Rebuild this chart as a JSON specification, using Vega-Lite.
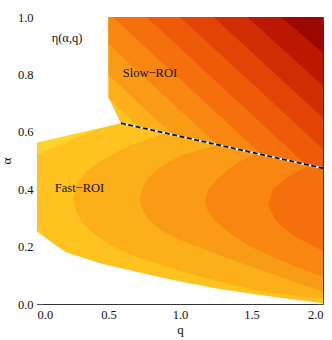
{
  "$schema": "https://vega.github.io/schema/vega-lite/v6.json",
  "width": 286,
  "height": 287,
  "autosize": "none",
  "padding": {"left": 37, "top": 17, "right": 9, "bottom": 36},
  "background": "white",
  "config": {
    "view": {"stroke": "#333", "strokeWidth": 1},
    "font": "Liberation Serif",
    "axis": {"labelFont": "Liberation Serif", "titleFont": "Liberation Serif", "labelFontSize": 12.5, "titleFontSize": 13, "labelColor": "#111", "titleColor": "#111", "titleFontWeight": "normal", "domain": false, "grid": false, "tickColor": "#555", "tickWidth": 0.8}
  },
  "datasets": {
    "base": [{"q0": 0, "q1": 2, "a0": 0, "a1": 0.7}],
    "f1": [
      {"a": 0.0, "xl": 0.75}, {"a": 0.105, "xl": 0.75}, {"a": 0.11, "xl": 0.70}, {"a": 0.13, "xl": 0.52},
      {"a": 0.155, "xl": 0.33}, {"a": 0.19, "xl": 0.18}, {"a": 0.215, "xl": 0.10}, {"a": 0.245, "xl": 0.03},
      {"a": 0.27, "xl": 0.0}, {"a": 0.29, "xl": -0.1}, {"a": 0.50, "xl": -0.1}, {"a": 0.52, "xl": 0.0},
      {"a": 0.55, "xl": 0.14}, {"a": 0.58, "xl": 0.28}, {"a": 0.61, "xl": 0.43}, {"a": 0.625, "xl": 0.53},
      {"a": 0.65, "xl": 0.75}
    ],
    "fa": [
      {"a": 0.017, "xl": 2.0}, {"a": 0.04, "xl": 1.62}, {"a": 0.07, "xl": 1.33}, {"a": 0.095, "xl": 1.15},
      {"a": 0.115, "xl": 1.0}, {"a": 0.14, "xl": 0.85}, {"a": 0.165, "xl": 0.69}, {"a": 0.20, "xl": 0.53},
      {"a": 0.24, "xl": 0.41}, {"a": 0.28, "xl": 0.325}, {"a": 0.32, "xl": 0.275}, {"a": 0.37, "xl": 0.255},
      {"a": 0.42, "xl": 0.28}, {"a": 0.46, "xl": 0.34}, {"a": 0.50, "xl": 0.45}, {"a": 0.54, "xl": 0.60},
      {"a": 0.58, "xl": 0.80}, {"a": 0.62, "xl": 1.05}, {"a": 0.66, "xl": 1.4}
    ],
    "fb": [
      {"a": 0.043, "xl": 2.0}, {"a": 0.09, "xl": 1.73}, {"a": 0.136, "xl": 1.466}, {"a": 0.18, "xl": 1.22},
      {"a": 0.223, "xl": 1.0}, {"a": 0.26, "xl": 0.86}, {"a": 0.30, "xl": 0.77}, {"a": 0.33, "xl": 0.735},
      {"a": 0.362, "xl": 0.72}, {"a": 0.40, "xl": 0.735}, {"a": 0.44, "xl": 0.78}, {"a": 0.48, "xl": 0.87},
      {"a": 0.52, "xl": 1.02}, {"a": 0.56, "xl": 1.3}, {"a": 0.60, "xl": 1.65}, {"a": 0.64, "xl": 2.0}
    ],
    "fc": [
      {"a": 0.095, "xl": 2.0}, {"a": 0.12, "xl": 1.86}, {"a": 0.153, "xl": 1.70}, {"a": 0.20, "xl": 1.49},
      {"a": 0.246, "xl": 1.35}, {"a": 0.29, "xl": 1.245}, {"a": 0.33, "xl": 1.19}, {"a": 0.355, "xl": 1.175},
      {"a": 0.39, "xl": 1.19}, {"a": 0.43, "xl": 1.25}, {"a": 0.47, "xl": 1.34}, {"a": 0.50, "xl": 1.43},
      {"a": 0.54, "xl": 1.62}, {"a": 0.58, "xl": 1.95}
    ],
    "fd": [
      {"a": 0.185, "xl": 2.0}, {"a": 0.21, "xl": 1.90}, {"a": 0.246, "xl": 1.77}, {"a": 0.29, "xl": 1.67},
      {"a": 0.345, "xl": 1.617}, {"a": 0.40, "xl": 1.65}, {"a": 0.444, "xl": 1.757}, {"a": 0.48, "xl": 1.90},
      {"a": 0.52, "xl": 2.1}
    ],
    "masktop": [{"q": 0, "lo": 0.563}, {"q": 0.587, "lo": 0.63}],
    "maskbot": [
      {"q": 0, "hi": 0.252}, {"q": 0.2, "hi": 0.180}, {"q": 0.44, "hi": 0.142}, {"q": 0.80, "hi": 0.100},
      {"q": 1.0, "hi": 0.078}, {"q": 1.268, "hi": 0.053}, {"q": 1.56, "hi": 0.031}, {"q": 1.79, "hi": 0.016},
      {"q": 2.0, "hi": 0.003}
    ],
    "s0": [{"q": 0.5, "lo": 0.72}, {"q": 0.587, "lo": 0.63}, {"q": 2.0, "lo": 0.473}],
    "s1": [{"q": 0.5, "lo": 0.72}, {"q": 0.508, "lo": 0.712}, {"q": 0.716, "lo": 0.616}, {"q": 2.0, "lo": 0.473}],
    "s2": [{"q": 0.5, "lo": 0.798}, {"q": 0.952, "lo": 0.589}, {"q": 2.0, "lo": 0.473}],
    "s3": [{"q": 0.5, "lo": 0.906}, {"q": 1.261, "lo": 0.555}, {"q": 2.0, "lo": 0.473}],
    "s4": [{"q": 0.53, "lo": 1.0}, {"q": 1.570, "lo": 0.521}, {"q": 2.0, "lo": 0.473}],
    "s5": [{"q": 0.765, "lo": 1.0}, {"q": 1.879, "lo": 0.4865}, {"q": 2.0, "lo": 0.473}],
    "s6": [{"q": 1.0, "lo": 1.0}, {"q": 2.0, "lo": 0.54}],
    "s7": [{"q": 1.235, "lo": 1.0}, {"q": 2.0, "lo": 0.648}],
    "s8": [{"q": 1.47, "lo": 1.0}, {"q": 2.0, "lo": 0.76}],
    "s9": [{"q": 1.705, "lo": 1.0}, {"q": 2.0, "lo": 0.875}],
    "dash": [{"q": 0.587, "a": 0.63}, {"q": 2.0, "a": 0.473}],
    "labels": [
      {"q": 0.21, "a": 0.927, "t": "η(α,q)"},
      {"q": 0.79, "a": 0.805, "t": "Slow−ROI"},
      {"q": 0.297, "a": 0.404, "t": "Fast−ROI"}
    ]
  },
  "layer": [
    {
      "data": {"name": "base"},
      "mark": {"type": "rect", "color": "#FFD42C", "clip": true},
      "encoding": {
        "x": {"field": "q0", "type": "quantitative", "scale": {"domain": [0, 2], "nice": false, "zero": false},
              "title": "q", "axis": {"orient": "bottom", "values": [0, 0.25, 0.5, 0.75, 1, 1.25, 1.5, 1.75, 2], "labelExpr": "round(datum.value*4) % 2 == 0 ? format(datum.value, '.1f') : ''", "tickSize": {"condition": {"test": "round(datum.value*4) % 2 == 0", "value": -6}, "value": -3.5}, "labelPadding": 10, "titlePadding": 3}},
        "x2": {"field": "q1"},
        "y": {"field": "a0", "type": "quantitative", "scale": {"domain": [0, 1], "nice": false, "zero": false},
              "title": "α", "axis": {"orient": "left", "values": [0, 0.1, 0.2, 0.3, 0.4, 0.5, 0.6, 0.7, 0.8, 0.9, 1], "labelExpr": "round(datum.value*10) % 2 == 0 ? format(datum.value, '.1f') : ''", "tickSize": {"condition": {"test": "round(datum.value*10) % 2 == 0", "value": -6}, "value": -3.5}, "labelPadding": 10, "titlePadding": 4}},
        "y2": {"field": "a1"}
      }
    },
    {
      "data": {"name": "f1"},
      "mark": {"type": "area", "orient": "horizontal", "color": "#FFC21F", "clip": true},
      "encoding": {
        "y": {"field": "a", "type": "quantitative", "scale": {"domain": [0, 1], "nice": false, "zero": false}, "axis": null},
        "x": {"field": "xl", "type": "quantitative", "scale": {"domain": [0, 2], "nice": false, "zero": false}, "axis": null},
        "x2": {"datum": 2}
      }
    },
    {
      "data": {"name": "fa"},
      "mark": {"type": "area", "orient": "horizontal", "color": "#FDAF19", "clip": true},
      "encoding": {
        "y": {"field": "a", "type": "quantitative", "scale": {"domain": [0, 1], "nice": false, "zero": false}, "axis": null},
        "x": {"field": "xl", "type": "quantitative", "scale": {"domain": [0, 2], "nice": false, "zero": false}, "axis": null},
        "x2": {"datum": 2}
      }
    },
    {
      "data": {"name": "fb"},
      "mark": {"type": "area", "orient": "horizontal", "color": "#FA9B15", "clip": true},
      "encoding": {
        "y": {"field": "a", "type": "quantitative", "scale": {"domain": [0, 1], "nice": false, "zero": false}, "axis": null},
        "x": {"field": "xl", "type": "quantitative", "scale": {"domain": [0, 2], "nice": false, "zero": false}, "axis": null},
        "x2": {"datum": 2}
      }
    },
    {
      "data": {"name": "fc"},
      "mark": {"type": "area", "orient": "horizontal", "color": "#F88610", "clip": true},
      "encoding": {
        "y": {"field": "a", "type": "quantitative", "scale": {"domain": [0, 1], "nice": false, "zero": false}, "axis": null},
        "x": {"field": "xl", "type": "quantitative", "scale": {"domain": [0, 2], "nice": false, "zero": false}, "axis": null},
        "x2": {"datum": 2}
      }
    },
    {
      "data": {"name": "fd"},
      "mark": {"type": "area", "orient": "horizontal", "color": "#F5700C", "clip": true},
      "encoding": {
        "y": {"field": "a", "type": "quantitative", "scale": {"domain": [0, 1], "nice": false, "zero": false}, "axis": null},
        "x": {"field": "xl", "type": "quantitative", "scale": {"domain": [0, 2], "nice": false, "zero": false}, "axis": null},
        "x2": {"datum": 2}
      }
    },
    {
      "data": {"name": "masktop"},
      "mark": {"type": "area", "color": "white", "clip": true},
      "encoding": {
        "x": {"field": "q", "type": "quantitative", "scale": {"domain": [0, 2], "nice": false, "zero": false}, "axis": null},
        "y": {"field": "lo", "type": "quantitative", "scale": {"domain": [0, 1], "nice": false, "zero": false}, "axis": null},
        "y2": {"datum": 1}
      }
    },
    {
      "data": {"name": "maskbot"},
      "mark": {"type": "area", "color": "white", "clip": true},
      "encoding": {
        "x": {"field": "q", "type": "quantitative", "scale": {"domain": [0, 2], "nice": false, "zero": false}, "axis": null},
        "y": {"field": "hi", "type": "quantitative", "scale": {"domain": [0, 1], "nice": false, "zero": false}, "axis": null},
        "y2": {"datum": 0}
      }
    },
    {"data": {"name": "s0"}, "mark": {"type": "area", "color": "#FFC21F", "clip": true},
     "encoding": {"x": {"field": "q", "type": "quantitative", "scale": {"domain": [0, 2], "nice": false, "zero": false}, "axis": null},
                  "y": {"field": "lo", "type": "quantitative", "scale": {"domain": [0, 1], "nice": false, "zero": false}, "axis": null}, "y2": {"datum": 1}}},
    {"data": {"name": "s1"}, "mark": {"type": "area", "color": "#FDAF19", "clip": true},
     "encoding": {"x": {"field": "q", "type": "quantitative", "scale": {"domain": [0, 2], "nice": false, "zero": false}, "axis": null},
                  "y": {"field": "lo", "type": "quantitative", "scale": {"domain": [0, 1], "nice": false, "zero": false}, "axis": null}, "y2": {"datum": 1}}},
    {"data": {"name": "s2"}, "mark": {"type": "area", "color": "#FA9B15", "clip": true},
     "encoding": {"x": {"field": "q", "type": "quantitative", "scale": {"domain": [0, 2], "nice": false, "zero": false}, "axis": null},
                  "y": {"field": "lo", "type": "quantitative", "scale": {"domain": [0, 1], "nice": false, "zero": false}, "axis": null}, "y2": {"datum": 1}}},
    {"data": {"name": "s3"}, "mark": {"type": "area", "color": "#F88610", "clip": true},
     "encoding": {"x": {"field": "q", "type": "quantitative", "scale": {"domain": [0, 2], "nice": false, "zero": false}, "axis": null},
                  "y": {"field": "lo", "type": "quantitative", "scale": {"domain": [0, 1], "nice": false, "zero": false}, "axis": null}, "y2": {"datum": 1}}},
    {"data": {"name": "s4"}, "mark": {"type": "area", "color": "#F5700C", "clip": true},
     "encoding": {"x": {"field": "q", "type": "quantitative", "scale": {"domain": [0, 2], "nice": false, "zero": false}, "axis": null},
                  "y": {"field": "lo", "type": "quantitative", "scale": {"domain": [0, 1], "nice": false, "zero": false}, "axis": null}, "y2": {"datum": 1}}},
    {"data": {"name": "s5"}, "mark": {"type": "area", "color": "#EF5A08", "clip": true},
     "encoding": {"x": {"field": "q", "type": "quantitative", "scale": {"domain": [0, 2], "nice": false, "zero": false}, "axis": null},
                  "y": {"field": "lo", "type": "quantitative", "scale": {"domain": [0, 1], "nice": false, "zero": false}, "axis": null}, "y2": {"datum": 1}}},
    {"data": {"name": "s6"}, "mark": {"type": "area", "color": "#E34405", "clip": true},
     "encoding": {"x": {"field": "q", "type": "quantitative", "scale": {"domain": [0, 2], "nice": false, "zero": false}, "axis": null},
                  "y": {"field": "lo", "type": "quantitative", "scale": {"domain": [0, 1], "nice": false, "zero": false}, "axis": null}, "y2": {"datum": 1}}},
    {"data": {"name": "s7"}, "mark": {"type": "area", "color": "#D22D02", "clip": true},
     "encoding": {"x": {"field": "q", "type": "quantitative", "scale": {"domain": [0, 2], "nice": false, "zero": false}, "axis": null},
                  "y": {"field": "lo", "type": "quantitative", "scale": {"domain": [0, 1], "nice": false, "zero": false}, "axis": null}, "y2": {"datum": 1}}},
    {"data": {"name": "s8"}, "mark": {"type": "area", "color": "#BC1800", "clip": true},
     "encoding": {"x": {"field": "q", "type": "quantitative", "scale": {"domain": [0, 2], "nice": false, "zero": false}, "axis": null},
                  "y": {"field": "lo", "type": "quantitative", "scale": {"domain": [0, 1], "nice": false, "zero": false}, "axis": null}, "y2": {"datum": 1}}},
    {"data": {"name": "s9"}, "mark": {"type": "area", "color": "#9C0800", "clip": true},
     "encoding": {"x": {"field": "q", "type": "quantitative", "scale": {"domain": [0, 2], "nice": false, "zero": false}, "axis": null},
                  "y": {"field": "lo", "type": "quantitative", "scale": {"domain": [0, 1], "nice": false, "zero": false}, "axis": null}, "y2": {"datum": 1}}},
    {"data": {"name": "dash"}, "mark": {"type": "line", "color": "white", "strokeWidth": 1.8, "clip": true},
     "encoding": {"x": {"field": "q", "type": "quantitative", "scale": {"domain": [0, 2], "nice": false, "zero": false}, "axis": null},
                  "y": {"field": "a", "type": "quantitative", "scale": {"domain": [0, 1], "nice": false, "zero": false}, "axis": null}}},
    {"data": {"name": "dash"}, "mark": {"type": "line", "color": "#111", "strokeWidth": 1.8, "strokeDash": [5, 2.5], "clip": true},
     "encoding": {"x": {"field": "q", "type": "quantitative", "scale": {"domain": [0, 2], "nice": false, "zero": false},
                        "axis": {"orient": "top", "values": [0, 0.25, 0.5, 0.75, 1, 1.25, 1.5, 1.75, 2], "labels": false, "title": null, "tickSize": {"condition": {"test": "round(datum.value*4) % 2 == 0", "value": -6}, "value": -3.5}}},
                  "y": {"field": "a", "type": "quantitative", "scale": {"domain": [0, 1], "nice": false, "zero": false},
                        "axis": {"orient": "right", "values": [0, 0.1, 0.2, 0.3, 0.4, 0.5, 0.6, 0.7, 0.8, 0.9, 1], "labels": false, "title": null, "tickSize": {"condition": {"test": "round(datum.value*10) % 2 == 0", "value": -6}, "value": -3.5}}}}},
    {"data": {"name": "labels"}, "mark": {"type": "text", "font": "Liberation Serif", "fontSize": 12.5, "color": "#111"},
     "encoding": {"x": {"field": "q", "type": "quantitative", "scale": {"domain": [0, 2], "nice": false, "zero": false}, "axis": null},
                  "y": {"field": "a", "type": "quantitative", "scale": {"domain": [0, 1], "nice": false, "zero": false}, "axis": null},
                  "text": {"field": "t"}}}
  ],
  "resolve": {"axis": {"x": "independent", "y": "independent"}}
}
